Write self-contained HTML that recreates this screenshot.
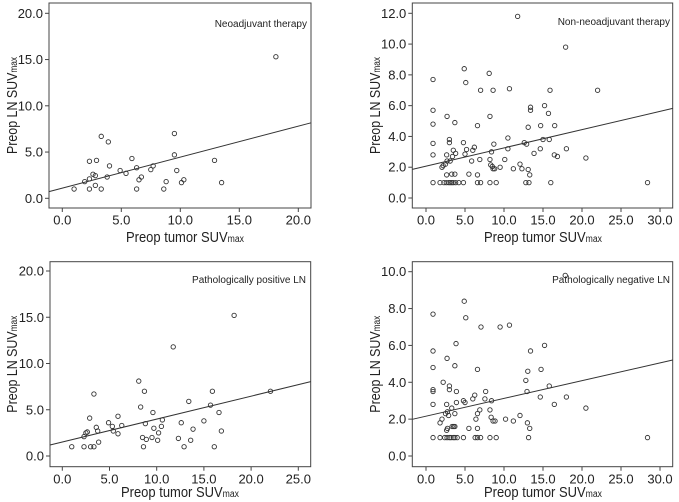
<!DOCTYPE html>
<html><head><meta charset="utf-8"><style>
html,body{margin:0;padding:0;background:#fff;}
svg{display:block;font-family:"Liberation Sans",sans-serif;}
</style></head><body>
<svg id="c" width="679" height="502"></svg>
<script>
// Panel A: Neoadjuvant therapy
const xA=[1.0,1.9,2.3,2.3,2.3,2.6,2.8,2.8,2.9,3.3,3.3,3.8,3.9,4.0,4.9,5.4,5.9,6.3,6.3,6.5,6.7,7.5,7.7,8.6,8.8,9.5,9.5,9.7,10.1,10.3,12.9,13.5,18.1];
const yA=[1.0,1.8,2.1,4.0,1.0,2.6,2.45,1.4,4.1,6.7,1.0,2.3,6.1,3.5,3.0,2.7,4.3,3.3,1.0,2.0,2.3,3.1,3.5,1.0,1.8,7.0,4.7,3.0,1.7,2.0,4.1,1.7,15.3];
const fitA=[1.1,0.335];
// Panel B: Non-neoadjuvant therapy
const xB=[0.9,0.9,0.9,0.9,0.9,0.9,2.7,3.0,3.0,3.7,3.5,3.8,3.4,2.65,2.7,2.2,2.05,2.5,3.1,2.65,3.3,3.7,1.8,2.3,2.6,2.9,3.1,3.3,3.5,3.8,4.2,4.8,5.0,4.9,5.1,5.2,5.5,4.8,6.0,6.2,5.85,6.6,7.0,6.9,6.6,6.6,7.0,8.1,8.2,8.6,8.4,8.2,8.3,8.5,8.6,8.8,8.7,8.2,9.0,9.5,10.1,10.5,10.5,10.7,11.2,11.75,12.05,12.3,12.6,12.9,12.8,13.2,13.1,13.1,13.3,13.4,13.4,13.85,14.65,14.7,15.0,15.2,15.7,15.8,15.9,16.0,16.45,16.5,16.85,17.9,18.0,20.5,22.0,28.4];
const yB=[7.7,5.7,4.8,3.55,2.8,1.0,5.3,3.8,3.6,4.9,3.1,2.9,2.7,2.8,2.4,2.1,2.0,2.2,2.4,1.5,1.55,1.55,1.0,1.0,1.0,1.0,1.0,1.0,1.0,1.0,1.0,3.6,2.85,8.4,7.5,3.15,1.55,1.0,3.1,3.3,2.4,4.7,7.0,2.5,1.5,1.0,1.0,8.1,5.3,7.0,3.0,2.5,2.15,2.05,1.9,1.9,3.5,1.0,1.0,2.0,2.5,3.9,3.2,7.1,1.9,11.8,2.2,1.9,3.6,3.5,1.0,1.0,4.6,1.85,1.5,5.9,5.7,2.9,3.2,4.7,3.8,6.0,5.5,3.8,7.0,1.0,2.8,4.7,2.7,9.8,3.2,2.6,7.0,1.0];
const fitB=[2.07,0.1186];
// Panel C: Pathologically positive LN
const xC=[1.0,2.3,2.3,2.5,2.65,2.9,3.0,3.35,3.35,3.6,3.75,3.85,4.9,5.3,5.4,5.9,5.9,6.3,8.1,8.3,8.5,8.6,8.7,8.8,8.9,9.5,9.6,9.7,10.1,10.2,10.5,10.6,11.75,12.3,12.6,12.9,13.4,13.6,13.85,15.0,15.7,15.9,16.1,16.6,16.85,18.2,22.05];
const yC=[1.0,1.0,2.1,2.5,2.6,4.1,1.0,1.0,6.7,3.1,2.7,1.5,3.6,3.2,2.7,4.3,2.4,3.3,8.1,5.3,2.0,1.0,7.0,3.5,1.8,2.0,4.7,3.0,1.7,2.5,3.2,3.9,11.8,1.9,3.6,1.0,5.9,1.7,2.9,3.8,5.5,7.0,1.0,4.7,2.7,15.2,7.0];
const fitC=[1.51,0.248];
// Panel D: Pathologically negative LN
const xD=[0.9,0.9,0.9,0.9,0.9,0.9,0.9,1.8,2.4,2.7,3.0,3.2,3.5,3.7,4.0,1.8,2.05,2.2,2.5,2.7,2.65,2.75,2.65,2.75,2.9,3.0,3.0,3.3,3.35,3.55,3.7,3.7,3.7,3.85,3.9,3.9,4.8,4.9,5.0,5.1,4.8,5.5,6.0,6.25,6.4,6.6,6.6,6.6,6.3,6.6,7.0,6.9,7.05,7.55,7.65,8.2,8.2,8.35,8.4,8.6,8.85,9.0,9.5,10.2,10.7,11.2,12.05,12.8,12.95,13.05,13.0,13.15,13.3,13.4,14.65,14.75,15.2,15.8,16.45,17.85,18.0,20.5,28.4];
const yD=[7.7,5.7,4.8,3.6,3.5,2.8,1.0,1.0,1.0,1.0,1.0,1.0,1.0,1.0,1.0,1.8,2.0,4.0,2.3,5.3,2.8,2.4,1.4,1.5,2.2,3.8,3.6,2.6,1.6,1.6,1.6,2.3,4.9,6.1,2.9,3.5,3.0,8.4,2.9,7.5,1.0,1.5,3.1,3.3,2.0,4.7,2.3,1.5,1.0,1.0,1.0,2.5,7.0,3.1,3.5,2.5,1.0,2.1,3.0,1.9,1.9,1.0,7.0,2.0,7.1,1.9,2.2,4.1,3.5,4.6,1.8,1.0,1.5,5.7,3.2,4.7,6.0,3.8,2.8,9.8,3.2,2.6,1.0];
const fitD=[2.16,0.0964];

const xTicksA=[0,5,10,15,20], yTicksA=[0,5,10,15,20];
const xTicksB=[0,5,10,15,20,25,30], yTicksB=[0,2,4,6,8,10,12];
const xTicksC=[0,5,10,15,20,25], yTicksC=[0,5,10,15,20];
const xTicksD=[0,5,10,15,20,25,30], yTicksD=[0,2,4,6,8,10];

const NS="http://www.w3.org/2000/svg";
const svg=document.getElementById('c');
function mk(tag,attrs,parent){const e=document.createElementNS(NS,tag);for(const k in attrs)e.setAttribute(k,attrs[k]);(parent||svg).appendChild(e);return e;}

const panels=[
 {key:'neoadjuvant',xs:xA,ys:yA,fit:fitA,xt:xTicksA,yt:yTicksA,label:'Neoadjuvant therapy',box:[49,3,311,208],x0:[0,62.3],x1:[20,298.3],y0:[0,198.3],y1:[20,13.3],lx:307,ly:27,ytx:12,xtl:220,xtitle:242,xtitleX:185},
 {key:'non-neoadjuvant',xs:xB,ys:yB,fit:fitB,xt:xTicksB,yt:yTicksB,label:'Non-neoadjuvant therapy',box:[412.3,3,672.7,208],x0:[0,426],x1:[30,660],y0:[0,198],y1:[12,13.3],lx:670,ly:25,ytx:375,xtl:220,xtitle:242,xtitleX:543},
 {key:'positive-ln',xs:xC,ys:yC,fit:fitC,xt:xTicksC,yt:yTicksC,label:'Pathologically positive LN',box:[50,261.7,310.7,466.7],x0:[0,62.3],x1:[25,298.3],y0:[0,456],y1:[20,271],lx:306,ly:283,ytx:12,xtl:479,xtitle:497,xtitleX:180},
 {key:'negative-ln',xs:xD,ys:yD,fit:fitD,xt:xTicksD,yt:yTicksD,label:'Pathologically negative LN',box:[412.3,261.7,672.7,466.7],x0:[0,426],x1:[30,660],y0:[0,456],y1:[10,271.7],lx:670,ly:283,ytx:375,xtl:479,xtitle:497,xtitleX:543}
];

panels.forEach(p=>{
 const g=mk('g',{});
 
 
 const sx=v=>p.x0[1]+(v-p.x0[0])*(p.x1[1]-p.x0[1])/(p.x1[0]-p.x0[0]);
 const sy=v=>p.y0[1]+(v-p.y0[0])*(p.y1[1]-p.y0[1])/(p.y1[0]-p.y0[0]);
 const [L,T,R,B]=p.box;
 const box=mk('rect',{x:L,y:T,width:R-L,height:B-T,fill:'none',stroke:'#444','stroke-width':1},g);
 
 
 p.yt.forEach(v=>{
  const y=sy(v);
  const t=mk('line',{x1:L-4,x2:L,y1:y,y2:y,stroke:'#444'},g);
  
  
  const tx=mk('text',{x:L-6,y:y+4.5,'text-anchor':'end','font-size':13,fill:'#222'},g);
  
  
  tx.textContent=v.toFixed(1);
 });
 p.xt.forEach(v=>{
  const x=sx(v);
  const t=mk('line',{x1:x,x2:x,y1:B,y2:B+4,stroke:'#444'},g);
  
  
  const tx=mk('text',{x:x,y:p.xtl+4.5,'text-anchor':'middle','font-size':13,fill:'#222'},g);
  
  
  tx.textContent=v.toFixed(1);
 });
 const xa=p.x0[0]+(L-p.x0[1])*(p.x1[0]-p.x0[0])/(p.x1[1]-p.x0[1]);
 const xb=p.x0[0]+(R-p.x0[1])*(p.x1[0]-p.x0[0])/(p.x1[1]-p.x0[1]);
 const fl=mk('line',{x1:L,y1:sy(p.fit[0]+p.fit[1]*xa),x2:R,y2:sy(p.fit[0]+p.fit[1]*xb),stroke:'#333','stroke-width':1},g);
 
 
 p.xs.forEach((xv,i)=>{
  const c=mk('circle',{cx:sx(xv),cy:sy(p.ys[i]),r:2.2,fill:'none',stroke:'#333','stroke-width':0.9},g);
  
  
 });
 const lb=mk('text',{x:p.lx,y:p.ly,'text-anchor':'end','font-size':10,fill:'#222'},g);
 
 
 lb.textContent=p.label;
 const xt=mk('text',{x:p.xtitleX,y:p.xtitle,'text-anchor':'middle','font-size':15,fill:'#222',textLength:118,lengthAdjust:'spacingAndGlyphs'},g);
 
 
 xt.innerHTML='Preop tumor SUV<tspan font-size="10">max</tspan>';
 const cy=(T+B)/2;
 const yt=mk('text',{x:p.ytx,y:cy,'text-anchor':'middle','font-size':15,fill:'#222',transform:`rotate(-90 ${p.ytx} ${cy})`,dy:5,textLength:97,lengthAdjust:'spacingAndGlyphs'},g);
 
 
 yt.innerHTML='Preop LN SUV<tspan font-size="10">max</tspan>';
});
</script>
</body></html>
